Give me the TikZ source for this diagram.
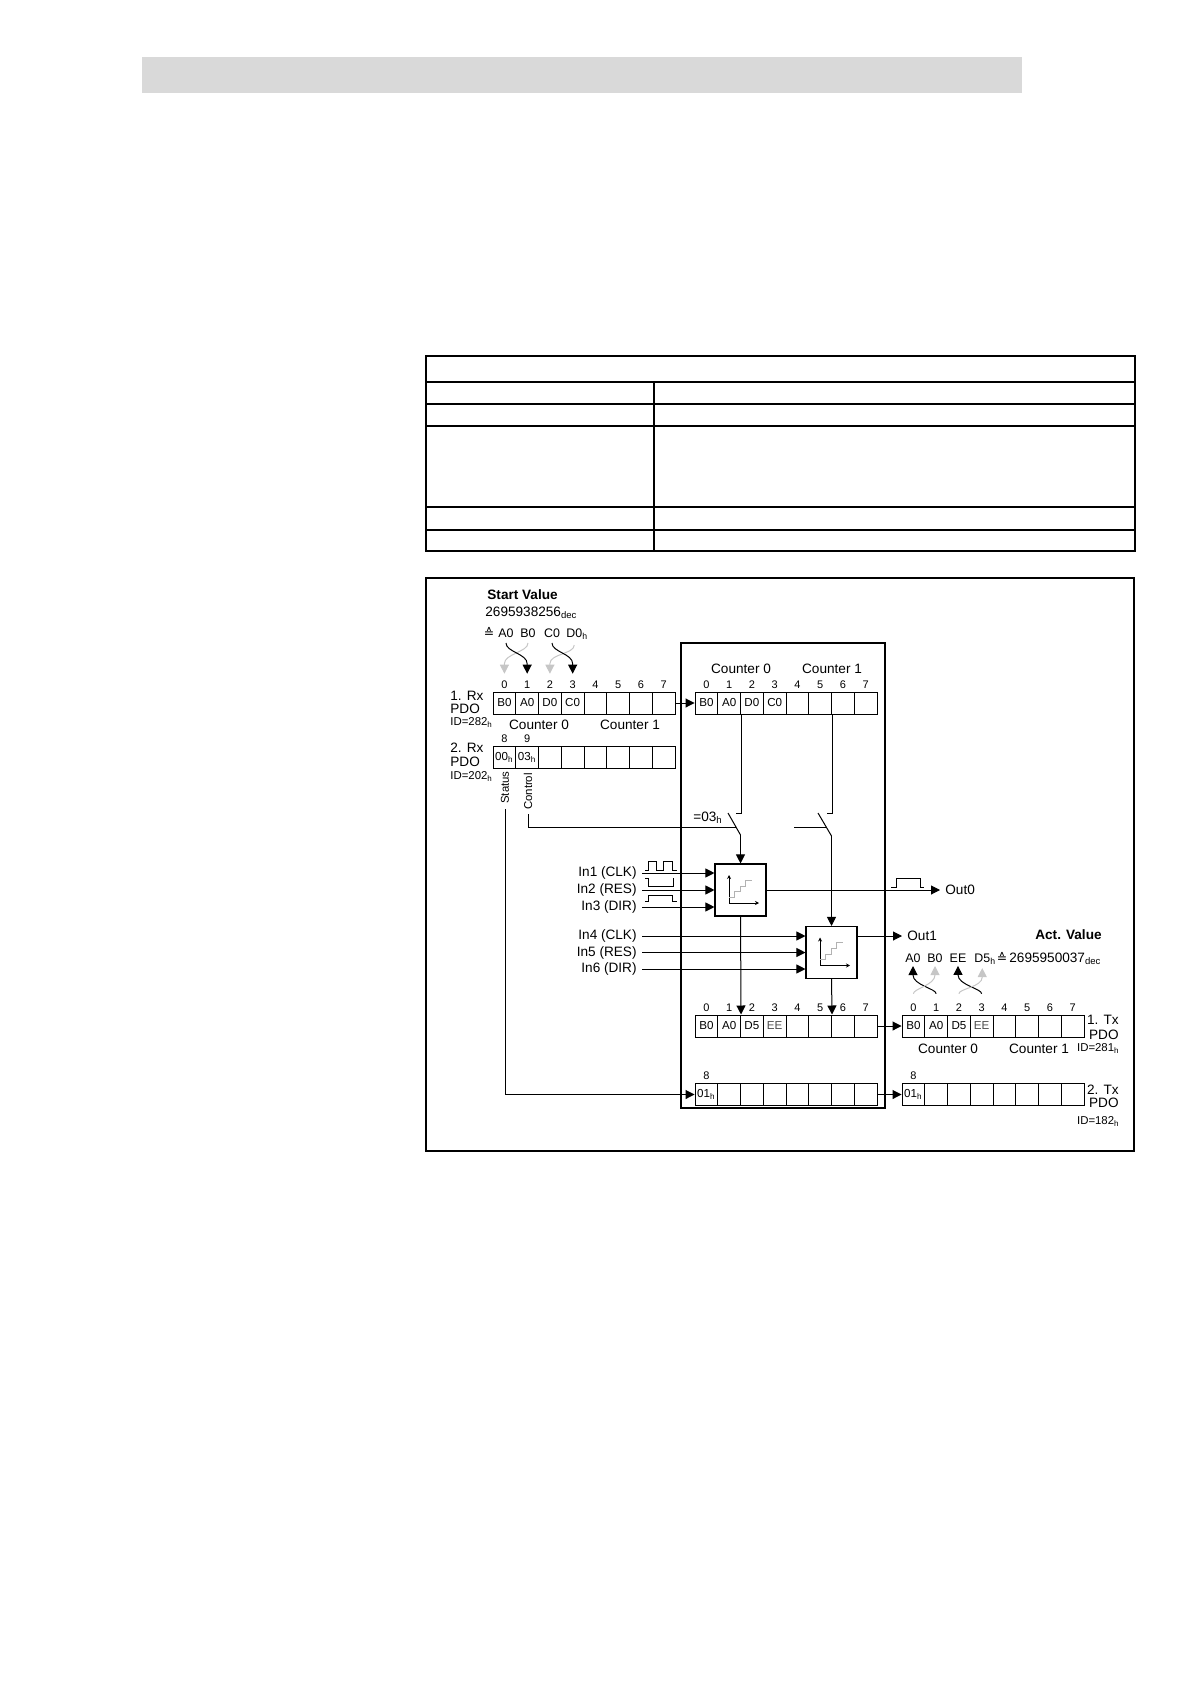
\documentclass[tikz,border=0pt]{standalone}
\usepackage{fontspec}
\setmainfont{Liberation Sans}
\newfontfamily\symfont{DejaVu Sans}
\usepackage{tikz}
\usetikzlibrary{positioning}
\usetikzlibrary{arrows.meta}
\newcommand{\hsub}{\textsubscript{h}}
\newcommand{\decsub}{\textsubscript{dec}}

\begin{document}
\begin{tikzpicture}[x=0.5pt, y=-0.5pt,
every node/.style = {inner sep=0pt},
txt/.style = {font=\fontsize{6.8}{8}\selectfont},
lbl/.style = {font=\fontsize{6.2}{7}\selectfont},
bold/.style = {font=\fontsize{6.8}{8}\selectfont\bfseries},
small/.style = {font=\fontsize{5.7}{7}\selectfont},
idx/.style = {font=\fontsize{5.5}{7}\selectfont, text height=4pt, text depth=0pt},
cell/.style = {draw, line width=0.5pt, minimum width=11.375pt, minimum height=11pt, text height=4.2pt, text depth=0.8pt, font=\fontsize{5.8}{7}\selectfont},
ctr/.style = {draw, line width=0.55pt, minimum width=25.5pt, minimum height=26pt},
sig/.style = {-{Triangle[length=4.5pt,width=4.5pt]}, line width=0.5pt},
pale/.style = {sig, draw=gray!45},
frame/.style = {line width=0.8pt}
]
\useasboundingbox (0,0) rectangle (1190,1684);
\fill[gray!30] (142,57) rectangle (1022,93);
\draw[frame] (426,356) rectangle (1135,551);
\foreach \y in {382,404,426,507,530} \draw[frame] (426,\y) -- (1135,\y);
\draw[frame] (654,382) -- (654,551);
\draw[frame] (426,578) rectangle (1134,1151);
\draw[line width=0.6pt] (681,643) rectangle (885,1108);

\foreach \i/\t in {0/B0,1/A0,2/D0,3/C0,4/,5/,6/,7/} {
  \node[cell] (ra\i) at ({504.4+22.75*\i},703) {\t};
  \node[idx, above=1.5pt of ra\i] (nra\i) {\i};
  \node[cell] (pa\i) at ({706.4+22.75*\i},703) {\t};
  \node[idx, above=1.5pt of pa\i] (npa\i) {\i};
}
\foreach \i/\t in {0/00\hsub,1/03\hsub,2/,3/,4/,5/,6/,7/}
  \node[cell] (rb\i) at ({504.4+22.75*\i},757) {\t};
\node[idx, above=1.5pt of rb0] (nrb0) {8};
\node[idx, above=1.5pt of rb1] (nrb1) {9};
\foreach \i/\t in {0/B0,1/A0,2/D5,3/{\color{black!70}EE},4/,5/,6/,7/} {
  \node[cell] (qa\i) at ({706.4+22.75*\i},1026) {\t};
  \node[idx, above=1.5pt of qa\i] (nqa\i) {\i};
  \node[cell] (ta\i) at ({913.4+22.75*\i},1026) {\t};
  \node[idx, above=1.5pt of ta\i] (nta\i) {\i};
}
\foreach \i/\t in {0/01\hsub,1/,2/,3/,4/,5/,6/,7/} {
  \node[cell] (qb\i) at ({706.4+22.75*\i},1094.5) {\t};
  \node[cell] (tb\i) at ({913.4+22.75*\i},1094.5) {\t};
}
\node[idx, above=1.5pt of qb0] (nqb0) {8};
\node[idx, above=1.5pt of tb0] (ntb0) {8};

\node[txt, below=2.5pt of ra1.south east] (cra0) {Counter 0};
\node[txt, below=2.5pt of ra5.south east] (cra1) {Counter 1};
\node[txt, above=8.5pt of pa1.north east] (cpa0) {Counter 0};
\node[txt, above=8.5pt of pa5.north east] (cpa1) {Counter 1};
\node[txt, below=3pt of ta1.south east] (cta0) {Counter 0};
\node[txt, below=3pt of ta5.south east] (cta1) {Counter 1};

\node[txt, anchor=west] (rxa) at (450,696) {1. Rx};
\node[txt, anchor=west] (rxapdo) at (450,709) {PDO};
\node[small, anchor=west] (rxaid) at (450,723) {ID=282\hsub};
\node[txt, anchor=west] (rxb) at (450,748) {2. Rx};
\node[txt, anchor=west] (rxbpdo) at (450,762) {PDO};
\node[small, anchor=west] (rxbid) at (450,777) {ID=202\hsub};
\node[txt, anchor=east] (txa) at (1119,1020) {1. Tx};
\node[txt, anchor=east] (txapdo) at (1119,1035) {PDO};
\node[small, anchor=east] (txaid) at (1120,1049) {ID=281\hsub};
\node[txt, anchor=east] (txb) at (1119,1090) {2. Tx};
\node[txt, anchor=east] (txbpdo) at (1119,1103) {PDO};
\node[small, anchor=east] (txbid) at (1120,1122) {ID=182\hsub};

\node[bold, anchor=west] (stv) at (487,595) {Start Value};
\node[txt, anchor=west] (stnum) at (485,613) {2695938256\decsub};
\node[lbl, anchor=base] (seq) at (489,637.5) {\symfont ≙};
\node[lbl, anchor=base] (sa0) at (506,637.5) {A0};
\node[lbl, anchor=base] (sb0) at (528,637.5) {B0};
\node[lbl, anchor=base] (sc0) at (552,637.5) {C0};
\node[lbl, anchor=base west] (sd0) at (566,637.5) {D0\hsub};
\draw[pale, shorten <=2.5pt] (sb0.south) .. controls +(0,14) and +(0,-10) .. ([yshift=8pt]nra0.north) -- ([yshift=3pt]nra0.north);
\draw[sig, shorten <=2.5pt] (sa0.south) .. controls +(0,14) and +(0,-10) .. ([yshift=8pt]nra1.north) -- ([yshift=3pt]nra1.north);
\draw[pale, shorten <=2.5pt] ([xshift=-1.5pt]sd0.south) .. controls +(0,14) and +(0,-10) .. ([yshift=8pt]nra2.north) -- ([yshift=3pt]nra2.north);
\draw[sig, shorten <=2.5pt] (sc0.south) .. controls +(0,14) and +(0,-10) .. ([yshift=8pt]nra3.north) -- ([yshift=3pt]nra3.north);

\node[bold, anchor=east] (actv) at (1102,935) {Act. Value};
\node[lbl, anchor=base] (aa0) at (913,962.5) {A0};
\node[lbl, anchor=base] (ab0) at (935,962.5) {B0};
\node[lbl, anchor=base] (aee) at (958,962.5) {EE};
\node[lbl, anchor=base west] (ad5) at (974,962.5) {D5\hsub};
\node[lbl, anchor=base] (aeq) at (1002,962.5) {\symfont ≙};
\node[txt, anchor=base west] (anum) at (1009,962.5) {2695950037\decsub};
\draw[sig, shorten <=4.5pt] (nta1.north) .. controls +(0,-14) and +(0,10) .. ([yshift=-6pt]aa0.south) -- ([yshift=-1.5pt]aa0.south);
\draw[pale, shorten <=4.5pt] (nta0.north) .. controls +(0,-14) and +(0,10) .. ([yshift=-6pt]ab0.south) -- ([yshift=-1.5pt]ab0.south);
\draw[sig, shorten <=4.5pt] (nta3.north) .. controls +(0,-14) and +(0,10) .. ([yshift=-6pt]aee.south) -- ([yshift=-1.5pt]aee.south);
\draw[pale, shorten <=4.5pt] (nta2.north) .. controls +(0,-14) and +(0,10) .. ([xshift=-1.5pt,yshift=-6pt]ad5.south) -- ([xshift=-1.5pt,yshift=-1.5pt]ad5.south);

\node[ctr] (ctr0) at (740.5,890) {};
\node[ctr] (ctr1) at (831.5,952.5) {};
\foreach \c in {ctr0,ctr1} {
  \draw[line width=0.5pt, {Stealth[length=2pt,width=2pt]}-{Stealth[length=2pt,width=2pt]}, shift={(\c.center)}] (-11.5,-15) -- (-11.5,13) -- (18.5,13);
  \draw[gray!60, line width=0.5pt, shift={(\c.center)}] (-11.5,7.3) -- (-5.8,7.3) -- (-5.8,1.7) -- (-0.5,1.7) -- (-0.5,-4) -- (5.2,-4) -- (5.2,-9.7) -- (11.2,-9.7);
}

\node[txt, anchor=east] (in1) at (637,873) {In1 (CLK)};
\node[txt, anchor=east] (in2) at (637,890) {In2 (RES)};
\node[txt, anchor=east] (in3) at (637,907) {In3 (DIR)};
\node[txt, anchor=east] (in4) at (637,936) {In4 (CLK)};
\node[txt, anchor=east] (in5) at (637,952.5) {In5 (RES)};
\node[txt, anchor=east] (in6) at (637,969) {In6 (DIR)};
\foreach \n in {in1,in2,in3} \draw[sig, shorten <=2.5pt] (\n.east) -- (\n.east -| ctr0.west);
\foreach \n in {in4,in5,in6} \draw[sig, shorten <=2.5pt] (\n.east) -- (\n.east -| ctr1.west);
\draw[line width=0.5pt] (645,870.7) -- (648,870.7) -- (648,861) -- (656,861) -- (656,870.7) -- (663,870.7) -- (663,861) -- (672,861) -- (672,870.7) -- (677,870.7);
\draw[line width=0.5pt] (645,878) -- (648,878) -- (648,886.7) -- (673,886.7) -- (673,878);
\draw[line width=0.5pt] (645,901.7) -- (648,901.7) -- (648,895) -- (672,895) -- (672,901.7) -- (677,901.7);

\draw[sig] (ra7.east) -- (pa0.west);
\draw[line width=0.5pt] (pa1.south east) -- ++(0,99) -- ++(-5,0);
\coordinate (sw0) at (740.5,835);
\draw[line width=0.5pt] (728,813) -- (sw0);
\draw[sig] (sw0) -- (ctr0.north);
\draw[line width=0.5pt] (pa5.south east) -- ++(0,99) -- ++(-5,0);
\coordinate (sw1) at (831.5,836);
\draw[line width=0.5pt] (818,813) -- (sw1);
\draw[line width=0.5pt] (794,827) -- (826,827);
\draw[sig] (sw1) -- (ctr1.north);
\node[txt, anchor=base west] (cmp) at (693,821.5) {=03\hsub};

\node[small, rotate=90] (sts) at (505,787.5) {Status};
\node[small, rotate=90] (ctl) at (528,791.5) {Control};
\draw[line width=0.5pt, shorten <=2pt] (ctl.west) |- (736,827);
\draw[sig, shorten <=2.5pt] (sts.west) |- (qb0.west);

\draw[sig] (ctr0.south) -- (qa1.north east);
\draw[sig] (ctr1.south) -- (qa5.north east);
\node[txt, anchor=west] (out0) at (945,890) {Out0};
\draw[sig, shorten >=2.5pt] (ctr0.east) -- (out0.west);
\draw[line width=0.5pt] (891,887) -- (896,887) -- (896,878) -- (920,878) -- (920,887) -- (924,887);
\node[txt, anchor=west] (out1) at (907,936) {Out1};
\draw[sig, shorten >=2.5pt] (in4 -| ctr1.east) -- (out1.west);
\draw[sig] (qa7.east) -- (ta0.west);
\draw[sig] (qb7.east) -- (tb0.west);
\end{tikzpicture}
\end{document}
